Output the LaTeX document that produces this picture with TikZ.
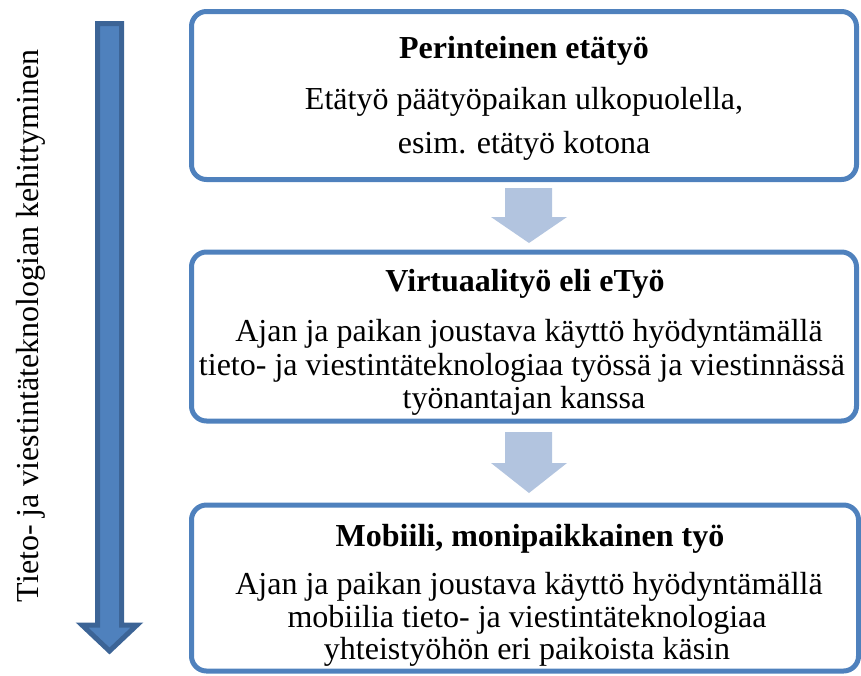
\documentclass[tikz,border=0pt]{standalone}
\usepackage{fontspec}
\setmainfont{Liberation Serif}
\definecolor{boxblue}{RGB}{79,129,189}
\definecolor{darkblue}{RGB}{60,100,150}
\definecolor{lightblue}{RGB}{178,196,223}
\begin{document}
\begin{tikzpicture}[x=1pt,y=-1pt,
  stagebox/.style={draw=boxblue,line width=5pt,rounded corners=15pt},
  txt/.style={anchor=base,inner sep=0pt,font=\fontsize{32}{36}\selectfont},
  ttl/.style={anchor=base,inner sep=0pt,font=\fontsize{32}{36}\selectfont\bfseries},
  smallarrow/.style={fill=lightblue,draw=none}]
\useasboundingbox (0,0) rectangle (861,675);
% boxes
\draw[stagebox] (191.5,11.5) rectangle (856.5,179.5);
\draw[stagebox] (191.5,252) rectangle (856.5,421);
\draw[stagebox] (191.5,505) rectangle (858.5,671);
% big arrow
\draw[fill=boxblue,draw=darkblue,line width=5pt,line join=miter]
  (97.5,23.5) -- (121.5,23.5) -- (121.5,625) -- (137,625) -- (109.5,651)
  -- (82,625) -- (97.5,625) -- cycle;
% small arrows
\fill[smallarrow] (505,188) -- (552,188) -- (552,217) -- (567,217) -- (529,243)
  -- (491,217) -- (505,217) -- cycle;
\fill[smallarrow] (505,432) -- (552,432) -- (552,463) -- (567,463) -- (529,493)
  -- (491,463) -- (505,463) -- cycle;
% texts
\node[ttl] (t1) at (524,58) {Perinteinen etätyö};
\node[txt] (l11) at (524,109) {Etätyö päätyöpaikan ulkopuolella,};
\node[txt] (l12) at (524,153) {esim. etätyö kotona};
\node[ttl] (t2) at (525,291) {Virtuaalityö eli eTyö};
\node[txt] (l21) at (529,341) {Ajan ja paikan joustava käyttö hyödyntämällä};
\node[txt] (l22) at (522,375) {tieto- ja viestintäteknologiaa työssä ja viestinnässä};
\node[txt] (l23) at (524,408) {työnantajan kanssa};
\node[ttl] (t3) at (530,546) {Mobiili, monipaikkainen työ};
\node[txt] (l31) at (529,594) {Ajan ja paikan joustava käyttö hyödyntämällä};
\node[txt] (l32) at (527,627) {mobiilia tieto- ja viestintäteknologiaa};
\node[txt] (l33) at (527,659) {yhteistyöhön eri paikoista käsin};
\node[rotate=90,inner sep=0pt,font=\fontsize{32}{36}\selectfont] (side) at (31,326) {Tieto- ja viestintäteknologian kehittyminen};
\end{tikzpicture}
\end{document}
